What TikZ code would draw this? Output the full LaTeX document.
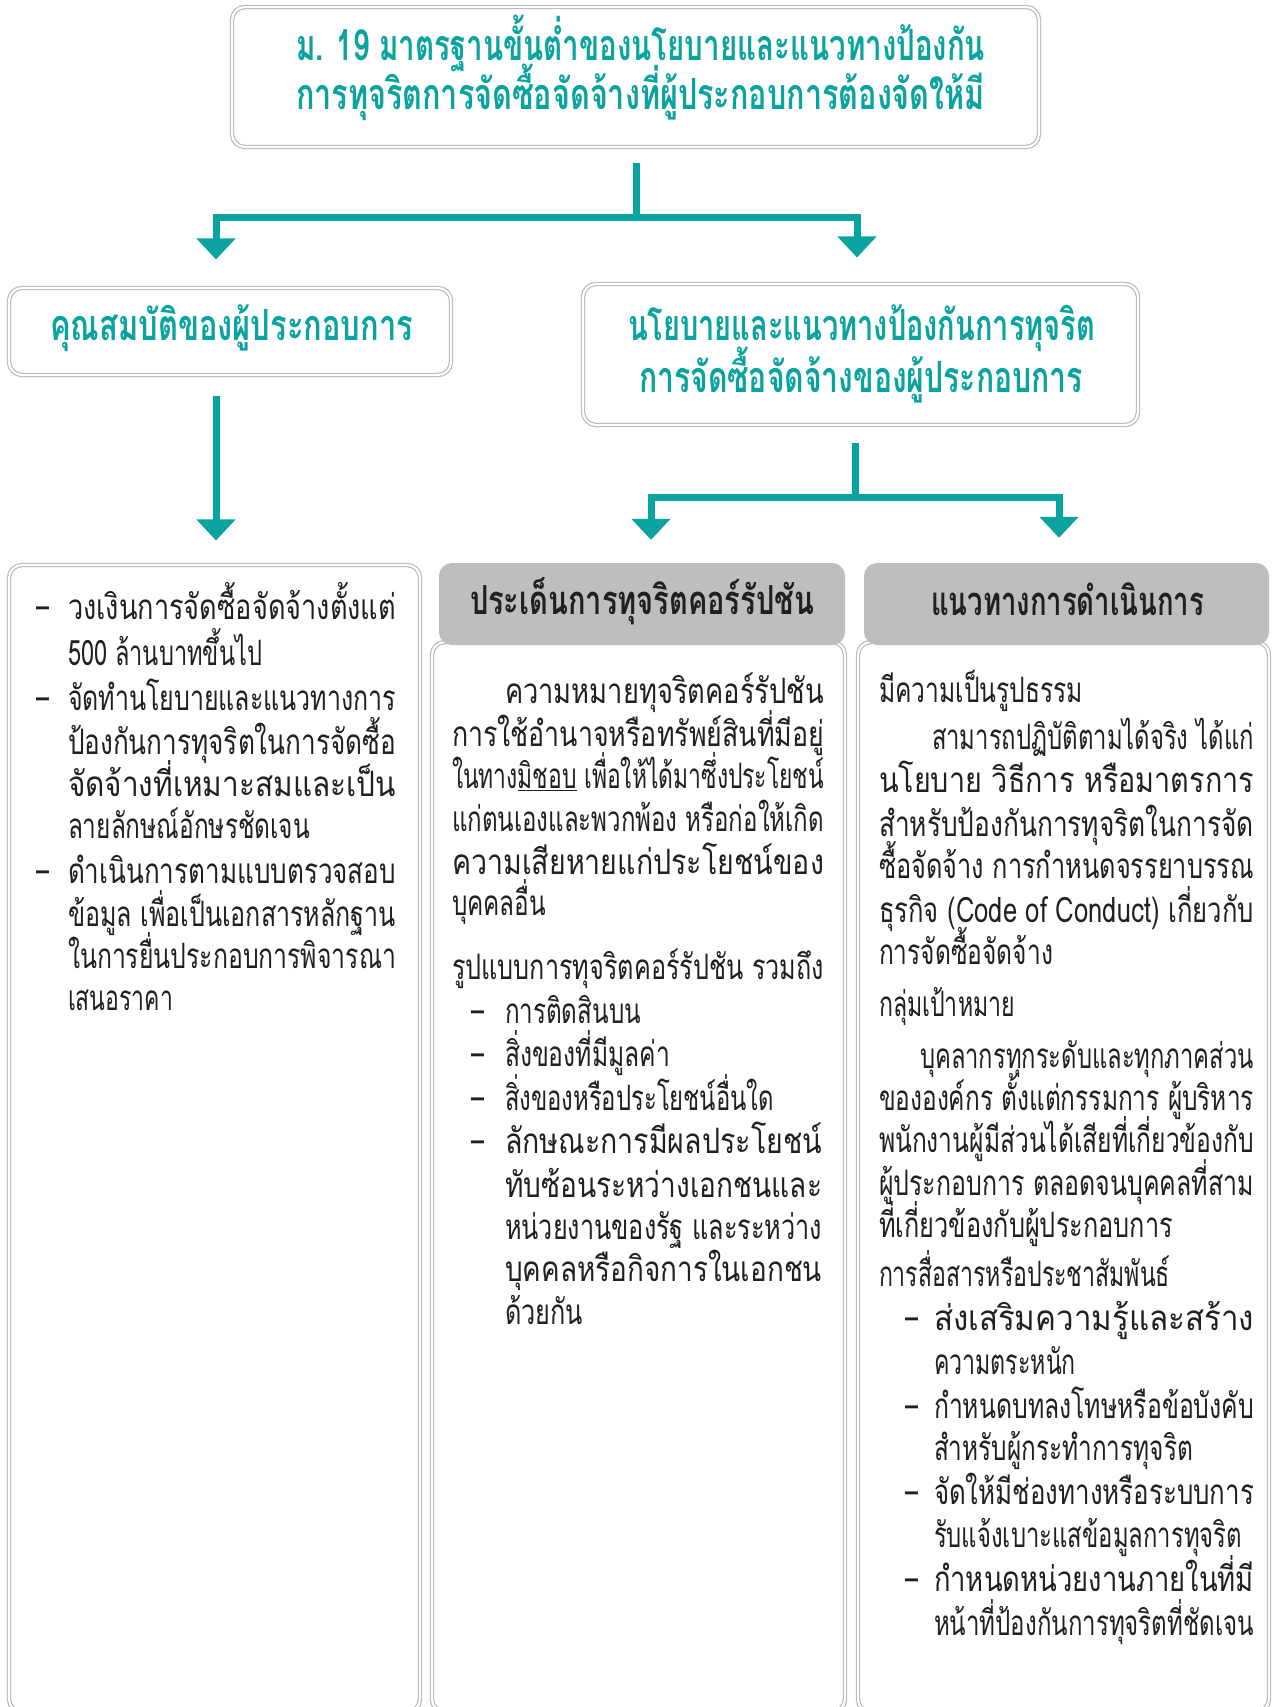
\documentclass[tikz,border=0pt]{standalone}
\usepackage{fontspec}
\usepackage{graphicx}
\usetikzlibrary{arrows.meta,calc}
\newfontfamily\thai[Script=Thai]{Loma}
\definecolor{tealc}{RGB}{10,164,160}
\definecolor{hdrgray}{RGB}{188,190,192}
\definecolor{edgegray}{RGB}{182,182,182}
\definecolor{ink}{RGB}{35,31,32}

\tikzset{
  frame/.style={draw=edgegray, line width=1.1pt, double=white, double distance=2.2pt,
                rounded corners=13pt, inner sep=0pt},
  hdr/.style={fill=hdrgray, rounded corners=13pt, inner sep=0pt},
  body/.style={inner sep=0pt, outer sep=0pt, text=ink, font=\thai\fontsize{35}{40}\selectfont},
  ttl/.style={inner sep=0pt, outer sep=0pt, text=tealc, font=\thai\bfseries\fontsize{43}{48}\selectfont},
  hdt/.style={inner sep=0pt, outer sep=0pt, text=ink, font=\thai\bfseries\fontsize{40}{45}\selectfont},
  link/.style={draw=tealc, line width=7pt, line join=miter},
  arr/.style={link, -{Triangle[width=38pt,length=21pt]}},
}

% one line of text stretched between two x positions, centred on y
\newcommand\tline[6][body]{\node[#1, anchor=mid west, yshift=-8pt] (#2) at (#3,#5)
  {\resizebox{\dimexpr #4pt-#3pt\relax}{\height}{#6}};}
% list dash
\newcommand\bul[3]{\node[body, anchor=mid, yshift=-8pt] (#1) at (#2,#3) {\resizebox{13pt}{\height}{–}};}

\begin{document}
\begin{tikzpicture}[x=1pt,y=-1pt]
\path[fill=white] (0,0) rectangle (1271,1707);
\clip (0,0) rectangle (1271,1707);

% ---------- boxes ----------
\node[frame, minimum width=807pt, minimum height=140pt] (top) at (635.5,77) {};
\node[frame, minimum width=442pt, minimum height=87pt] (qual) at (230,331.5) {};
\node[frame, minimum width=555pt, minimum height=141pt] (pol) at (860.5,354.5) {};
\node[frame, minimum width=411pt, minimum height=1147pt] (crit) at (214.5,1138.5) {};
\node[frame, minimum width=413pt, minimum height=1070pt] (corbox) at (638.5,1177) {};
\node[frame, minimum width=411pt, minimum height=1070pt] (actbox) at (1063.5,1177) {};
\node[hdr, minimum width=406pt, minimum height=82pt] (corhead) at (642,604) {};
\node[hdr, minimum width=405pt, minimum height=82pt] (acthead) at (1066.5,604) {};

% ---------- connectors ----------
\coordinate (fork1) at (636,217);
\draw[link] ($(top.south)+(0.5,15)$) -- (fork1);
\draw[arr, shorten >=28pt] (fork1) -| ($(qual.north)+(-14,0)$);
\draw[arr, shorten >=26pt] (fork1) -| ($(pol.north)+(-3.5,0)$);
\draw[arr, shorten >=24pt] ($(qual.south)+(-14,20)$) -- ($(crit.north)+(1.5,0)$);
\coordinate (fork2) at (855,497);
\draw[link] ($(pol.south)+(-5.5,17)$) -- (fork2);
\draw[arr, shorten >=23pt] (fork2) -| ($(corhead.north)+(9,0)$);
\draw[arr, shorten >=25pt] (fork2) -| ($(acthead.north)+(-7.5,0)$);

% ---------- titles ----------
\tline[ttl]{t1}{296}{985}{50}{ม. 19 มาตรฐานขั้นต่ำของนโยบายและแนวทางป้องกัน}
\tline[ttl]{t2}{296}{985}{99}{การทุจริตการจัดซื้อจัดจ้างที่ผู้ประกอบการต้องจัดให้มี}
\tline[ttl]{q1}{50}{413}{330}{คุณสมบัติของผู้ประกอบการ}
\tline[ttl]{p1}{628}{1095}{330}{นโยบายและแนวทางป้องกันการทุจริต}
\tline[ttl]{p2}{639}{1083}{382}{การจัดซื้อจัดจ้างของผู้ประกอบการ}
\tline[hdt]{h1}{470}{814}{604}{ประเด็นการทุจริตคอร์รัปชัน}
\tline[hdt]{h2}{931}{1204}{605}{แนวทางการดำเนินการ}

% ---------- qualifications ----------
\bul{qd1}{43}{609}
\tline{c1}{68}{396}{609}{วงเงินการจัดซื้อจัดจ้างตั้งแต่}
\tline{c2}{68}{262}{655}{500 ล้านบาทขึ้นไป}
\bul{qd2}{43}{700}
\tline{c3}{68}{396}{700}{จัดทำนโยบายและแนวทางการ}
\tline{c4}{68}{396}{744}{ป้องกันการทุจริตในการจัดซื้อ}
\tline{c5}{68}{396}{786}{จัดจ้างที่เหมาะสมและเป็น}
\tline{c6}{68}{310}{828}{ลายลักษณ์อักษรชัดเจน}
\bul{qd3}{43}{873}
\tline{c7}{68}{396}{873}{ดำเนินการตามแบบตรวจสอบ}
\tline{c8}{68}{396}{916}{ข้อมูล เพื่อเป็นเอกสารหลักฐาน}
\tline{c9}{68}{396}{958}{ในการยื่นประกอบการพิจารณา}
\tline{c10}{68}{173}{1000}{เสนอราคา}

% ---------- corruption issues ----------
\tline{m1}{505}{824}{693}{ความหมายทุจริตคอร์รัปชัน}
\tline{m2}{452}{824}{736}{การใช้อำนาจหรือทรัพย์สินที่มีอยู่}
\tline{m3}{452}{824}{778}{ในทาง\underline{มิชอบ} เพื่อให้ได้มาซึ่งประโยชน์}
\tline{m4}{452}{824}{821}{แก่ตนเองและพวกพ้อง หรือก่อให้เกิด}
\tline{m5}{452}{824}{864}{ความเสียหายแก่ประโยชน์ของ}
\tline{m6}{452}{546}{905}{บุคคลอื่น}
\tline{m7}{452}{824}{969}{รูปแบบการทุจริตคอร์รัปชัน รวมถึง}
\bul{md1}{478}{1013}
\tline{m8}{505}{641}{1013}{การติดสินบน}
\bul{md2}{478}{1056}
\tline{m9}{505}{670}{1056}{สิ่งของที่มีมูลค่า}
\bul{md3}{478}{1100}
\tline{m10}{505}{774}{1100}{สิ่งของหรือประโยชน์อื่นใด}
\bul{md4}{478}{1143}
\tline{m11}{505}{822}{1143}{ลักษณะการมีผลประโยชน์}
\tline{m12}{505}{822}{1187}{ทับซ้อนระหว่างเอกชนและ}
\tline{m13}{505}{822}{1229}{หน่วยงานของรัฐ และระหว่าง}
\tline{m14}{505}{822}{1271}{บุคคลหรือกิจการในเอกชน}
\tline{m15}{505}{583}{1314}{ด้วยกัน}

% ---------- actions ----------
\tline{a1}{879}{1083}{692}{มีความเป็นรูปธรรม}
\tline{a2}{932}{1254}{739}{สามารถปฏิบัติตามได้จริง ได้แก่}
\tline{a3}{879}{1254}{782}{นโยบาย วิธีการ หรือมาตรการ}
\tline{a4}{879}{1254}{826}{สำหรับป้องกันการทุจริตในการจัด}
\tline{a5}{879}{1254}{868}{ซื้อจัดจ้าง การกำหนดจรรยาบรรณ}
\tline{a6}{879}{1254}{912}{ธุรกิจ (Code of Conduct) เกี่ยวกับ}
\tline{a7}{879}{1053}{954}{การจัดซื้อจัดจ้าง}
\tline{a8}{879}{1015}{1006}{กลุ่มเป้าหมาย}
\tline{a9}{920}{1254}{1058}{บุคลากรทุกระดับและทุกภาคส่วน}
\tline{a10}{879}{1254}{1100}{ขององค์กร ตั้งแต่กรรมการ ผู้บริหาร}
\tline{a11}{879}{1254}{1142}{พนักงานผู้มีส่วนได้เสียที่เกี่ยวข้องกับ}
\tline{a12}{879}{1254}{1185}{ผู้ประกอบการ ตลอดจนบุคคลที่สาม}
\tline{a13}{879}{1173}{1227}{ที่เกี่ยวข้องกับผู้ประกอบการ}
\tline{a14}{879}{1170}{1276}{การสื่อสารหรือประชาสัมพันธ์}
\bul{ad1}{912}{1320}
\tline{a15}{934}{1254}{1320}{ส่งเสริมความรู้และสร้าง}
\tline{a16}{934}{1076}{1364}{ความตระหนัก}
\bul{ad2}{912}{1408}
\tline{a17}{934}{1254}{1408}{กำหนดบทลงโทษหรือข้อบังคับ}
\tline{a18}{934}{1193}{1450}{สำหรับผู้กระทำการทุจริต}
\bul{ad3}{912}{1494}
\tline{a19}{934}{1254}{1494}{จัดให้มีช่องทางหรือระบบการ}
\tline{a20}{934}{1242}{1537}{รับแจ้งเบาะแสข้อมูลการทุจริต}
\bul{ad4}{912}{1581}
\tline{a21}{934}{1254}{1581}{กำหนดหน่วยงานภายในที่มี}
\tline{a22}{934}{1254}{1625}{หน้าที่ป้องกันการทุจริตที่ชัดเจน}
\end{tikzpicture}
\end{document}
